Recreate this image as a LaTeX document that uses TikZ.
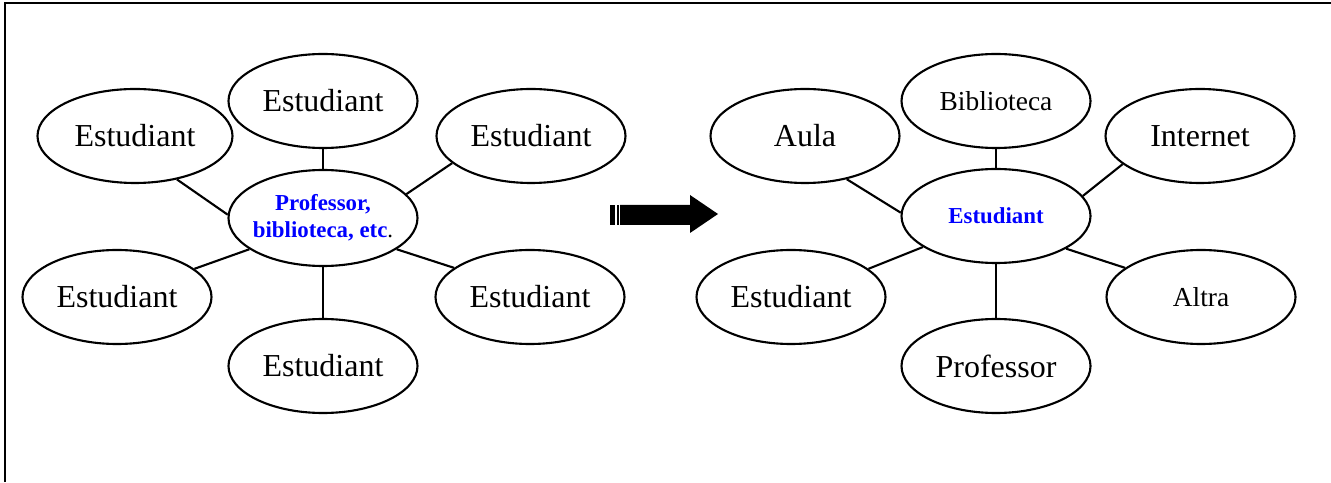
\documentclass[tikz,border=0pt]{standalone}
\usepackage{fontspec}
\setmainfont{Liberation Serif}
\usetikzlibrary{shapes.geometric}

\begin{document}
\begin{tikzpicture}[auto, line width=0.6pt,
    bubble/.style={ellipse, draw, line width=0.6pt, inner sep=0pt,
      minimum width=1.89cm, minimum height=0.94cm, font=\fontsize{9.1}{10}\selectfont},
    smallbubble/.style={bubble, font=\fontsize{7.8}{9}\selectfont},
    hub/.style={bubble, inner xsep=-4pt, align=center, text=blue, font=\fontsize{6.5}{7.7}\selectfont\bfseries}]
    \useasboundingbox (0, 0) rectangle (13.31, 4.82);
    \draw [line width=0.85pt] (0.05, 0)--(0.05, 4.79)--(13.31, 4.79);
    \node[hub, minimum height=0.96cm] (0) at (3.23, 2.64) {Professor,\\biblioteca, etc\textcolor{black}{\mdseries .}};
    \node[bubble] (1) at (3.23, 3.81) {Estudiant};
    \node[bubble, minimum width=1.95cm] (2) at (1.35, 3.46) {Estudiant};
    \node[bubble] (3) at (5.31, 3.46) {Estudiant};
    \node[bubble] (4) at (1.17, 1.85) {Estudiant};
    \node[bubble] (5) at (5.30, 1.85) {Estudiant};
    \node[bubble] (6) at (3.23, 1.16) {Estudiant};
    \node[hub] (10) at (9.96, 2.66) {Estudiant};
    \node[smallbubble] (11) at (9.96, 3.81) {Biblioteca};
    \node[bubble] (12) at (8.05, 3.46) {Aula};
    \node[bubble] (13) at (12.00, 3.46) {Internet};
    \node[bubble] (14) at (7.91, 1.85) {Estudiant};
    \node[smallbubble] (15) at (12.01, 1.85) {Altra};
    \node[bubble] (16) at (9.96, 1.16) {Professor};
    \draw [-] (1.south) to (0.north);
    \draw [-] (2.-46) to (0.178);
    \draw [-] (0.16) to (3.199);
    \draw [-] (4.20) to (0.203);
    \draw [-] (0.337) to (5.159);
    \draw [-] (0.south) to (6.north);
    \draw [-] (11.south) to (10.north);
    \draw [-] (12.-46) to (10.178);
    \draw [-] (10.13) to (13.200);
    \draw [-] (14.20) to (10.203);
    \draw [-] (10.335) to (15.159);
    \draw [-] (10.south) to (16.north);
    % striped arrow
    \fill (6.10, 2.57) rectangle (6.15, 2.77);
    \fill (6.17, 2.57) rectangle (6.19, 2.77);
    \fill (6.20, 2.57)--(6.90, 2.57)--(6.90, 2.49)--(7.18, 2.68)--(6.90, 2.87)--(6.90, 2.77)--(6.20, 2.77)--cycle;
  \end{tikzpicture}
\end{document}
